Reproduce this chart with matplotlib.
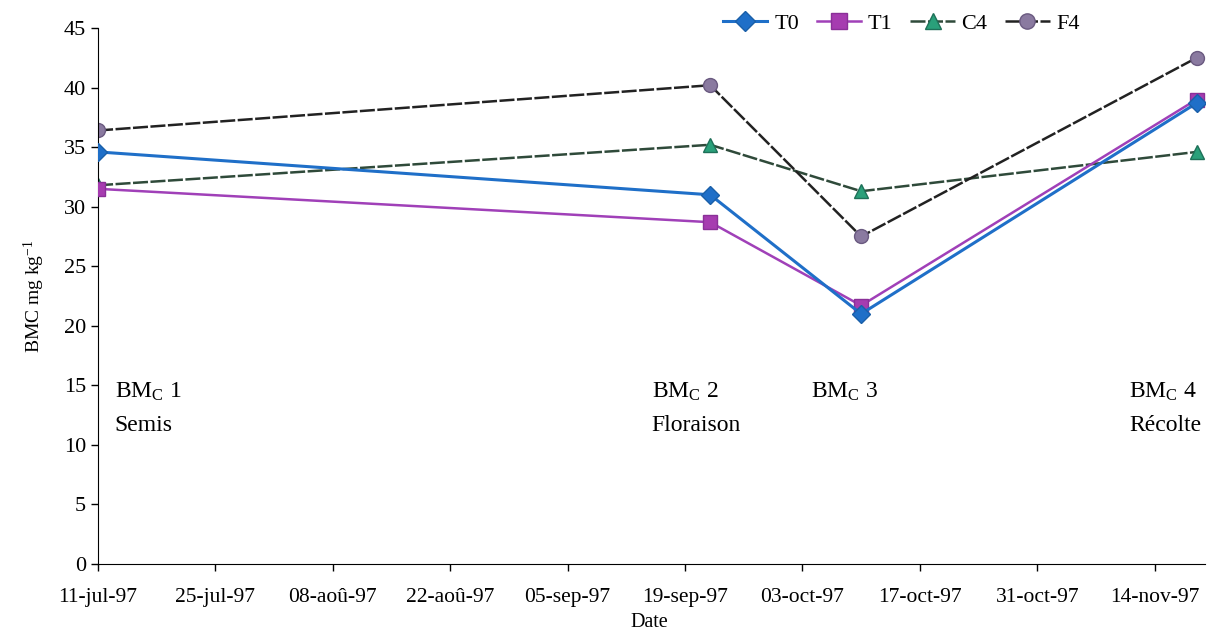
import datetime
import matplotlib
matplotlib.use("Agg")
import matplotlib.pyplot as plt

plt.rcParams['font.family'] = ['Liberation Serif', 'DejaVu Serif']
plt.rcParams['mathtext.fontset'] = 'custom'
plt.rcParams['mathtext.rm'] = 'Liberation Serif'
plt.rcParams['mathtext.it'] = 'Liberation Serif:italic'

# sampling dates
dates = [datetime.date(1997, 7, 11), datetime.date(1997, 9, 22),
         datetime.date(1997, 10, 10), datetime.date(1997, 11, 19)]

T0 = [34.6, 31.0, 21.0, 38.7]
T1 = [31.5, 28.7, 21.7, 39.0]
C4 = [31.8, 35.2, 31.3, 34.6]
F4 = [36.4, 40.2, 27.5, 42.5]

tick_dates = [datetime.date(1997, 7, 11) + datetime.timedelta(days=14 * i) for i in range(10)]
tick_labels = ["11-jul-97", "25-jul-97", "08-aoû-97", "22-aoû-97", "05-sep-97",
               "19-sep-97", "03-oct-97", "17-oct-97", "31-oct-97", "14-nov-97"]

stage_labels = ["BM$_{\\rm C}$ 1\nSemis", "BM$_{\\rm C}$ 2\nFloraison",
                "BM$_{\\rm C}$ 3", "BM$_{\\rm C}$ 4\nRécolte"]
stage_dates = [datetime.date(1997, 7, 13), datetime.date(1997, 9, 15),
               datetime.date(1997, 10, 4), datetime.date(1997, 11, 11)]

fig = plt.figure(figsize=(12.11, 6.32), dpi=100)
ax = fig.add_axes([0.081, 0.1076, 0.914, 0.848])

ax.plot(dates, T0, color="#1f6fc8", lw=2.2, marker="D", ms=9, mfc="#1f6fc8", mec="#1a5fa8", label="T0", zorder=4)
ax.plot(dates, T1, color="#a040b8", lw=1.8, marker="s", ms=10, mfc="#a63cb0", mec="#8a3098", label="T1", zorder=3)
ax.plot(dates, C4, color="#2f4a3a", lw=1.8, ls=(0, (6, 1)), marker="^", ms=10, mfc="#2aa07a", mec="#1e7058", label="C4", zorder=2)
ax.plot(dates, F4, color="#222222", lw=1.8, ls=(0, (6, 1)), marker="o", ms=10, mfc="#8a7aa0", mec="#6a5a80", label="F4", zorder=2)

for d, s in zip(stage_dates, stage_labels):
    ax.text(d, 15.4, s, fontsize=17, va="top", ha="left", linespacing=1.75)

ax.set_xlim(datetime.date(1997, 7, 11), datetime.date(1997, 11, 20))
ax.set_ylim(0, 45)
ax.set_yticks(range(0, 50, 5))
ax.set_xticks(tick_dates)
ax.set_xticklabels(tick_labels)
ax.tick_params(axis="x", labelsize=15.5, direction="out", length=5, width=1, pad=12)
ax.tick_params(axis="y", labelsize=16, direction="out", length=5, width=1)
ax.spines["top"].set_visible(False)
ax.spines["right"].set_visible(False)
ax.set_ylabel("BMC mg kg$^{\\mathregular{-1}}$", fontsize=14, labelpad=12)
# x label sits just under the tick labels
fig.text(0.536, 0.015, "Date", fontsize=14.5, ha="center", va="center")

ax.legend(loc="upper right", bbox_to_anchor=(0.905, 1.065), ncol=4, frameon=False,
          fontsize=16, handlelength=2.0, columnspacing=0.8, handletextpad=0.3, markerscale=1.1)

fig.savefig("out.png", dpi=100)
